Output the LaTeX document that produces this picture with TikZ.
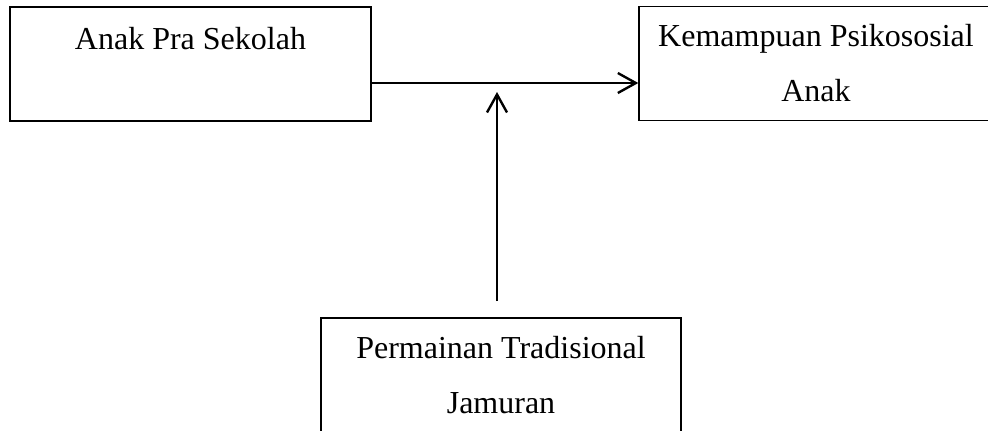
\documentclass[tikz,border=0pt]{standalone}
\usepackage{fontspec}
\setmainfont{Liberation Serif}
\usetikzlibrary{arrows.meta}
\begin{document}
\begin{tikzpicture}[x=0.5pt, y=-0.5pt,
    kotak/.style={draw, line width=0.7pt, align=center, inner sep=0pt,
        minimum height=57pt, font=\fontsize{16pt}{27.5pt}\selectfont},
    panah/.style={-{Straight Barb[length=9pt,width=10pt,line width=1.2pt]}, line width=1.2pt}]
\useasboundingbox (0,0) rectangle (988,430);
\node[kotak, minimum width=180.5pt] (anak) at (190.5,64) {\raisebox{-1.5pt}{Anak Pra Sekolah}\\ \mbox{}};
\node[kotak, minimum width=177pt] (psiko) at (816,63.5) {Kemampuan Psikososial\\ Anak};
\node[kotak, minimum width=180pt] (main) at (501,375) {Permainan Tradisional\\ Jamuran};
\draw[panah] (anak.east) ++(0,19) coordinate (h1) -- (h1 -| psiko.west);
\coordinate (v1) at (497,301);
\coordinate (v2) at (497,92);
\draw[panah] (v1) -- (v2);
\end{tikzpicture}
\end{document}
